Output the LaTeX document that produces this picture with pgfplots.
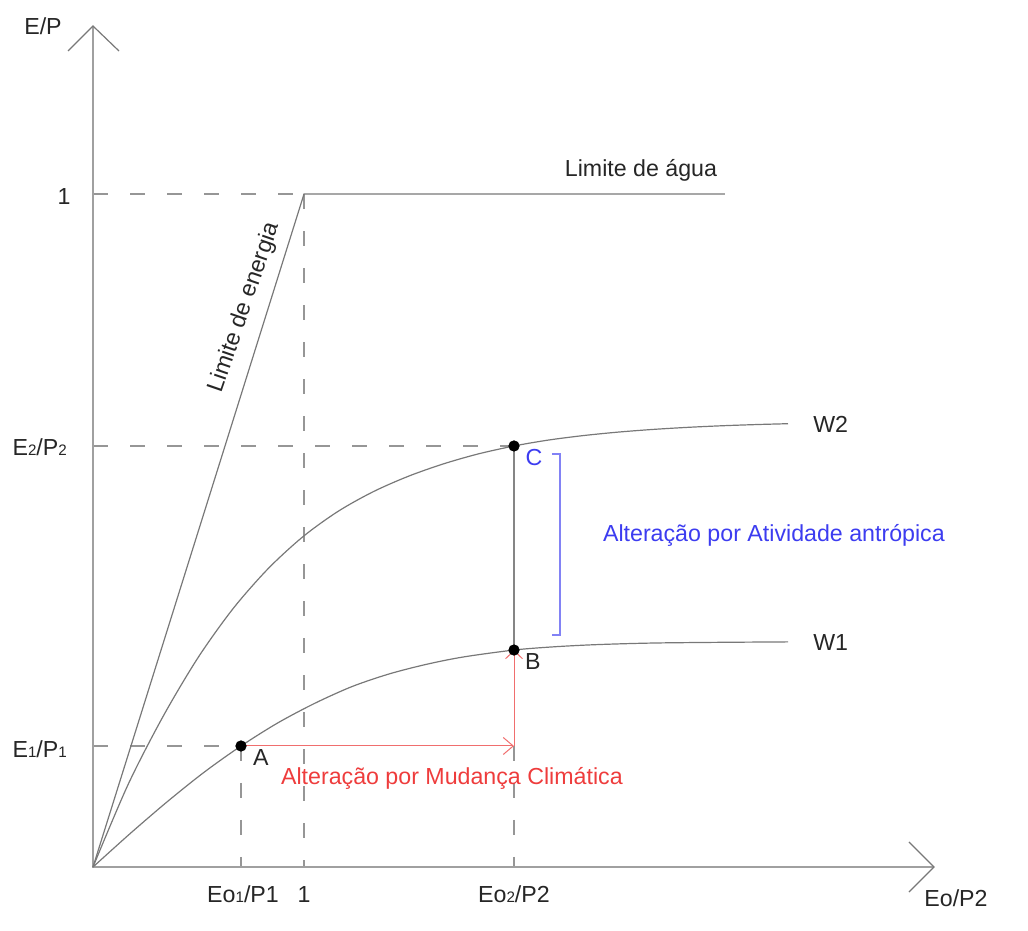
\documentclass[border=0pt]{standalone}
\usepackage{fontspec}
\setmainfont{Liberation Sans}
\usepackage{pgfplots}
\pgfplotsset{compat=1.18}
\usetikzlibrary{arrows.meta}
\definecolor{axg}{RGB}{160,160,160}
\definecolor{crv}{RGB}{120,120,120}
\definecolor{dsh}{RGB}{150,150,150}
\definecolor{redt}{RGB}{238,60,60}
\definecolor{redl}{RGB}{240,110,110}
\definecolor{bluet}{RGB}{60,60,240}
\definecolor{bluel}{RGB}{130,130,245}
\newcommand{\sub}[1]{{\fontsize{7.6}{8}\selectfont #1}}
\begin{document}
\fontsize{11.6}{14}\selectfont
\begin{tikzpicture}[font=\fontsize{11.6}{14}\selectfont]
\begin{axis}[
  width=514pt, height=465.5pt, scale only axis,
  xmin=-0.4408, xmax=4.4313, ymin=-0.0951, ymax=1.2883,
  hide axis, clip=false,
]
\path[draw=none] (rel axis cs:0,0) rectangle (rel axis cs:1,1);
% dashed guide lines
\pgfplotsset{dl/.style={no marks, color=dsh, line width=0.65pt, dash pattern=on 7.5pt off 11pt}}
\addplot[dl] coordinates {(0,1) (1,1)};
\addplot[dl] coordinates {(1,1) (1,0)};
\addplot[dl] coordinates {(0,0.6256) (1.9953,0.6256)};
\addplot[dl] coordinates {(0,0.1798) (0.7014,0.1798)};
\addplot[dl] coordinates {(0.7014,0.1798) (0.7014,0)};
\addplot[dl] coordinates {(1.9953,0.1798) (1.9953,0)};
% axes
\addplot[no marks, color=axg, line width=0.75pt] coordinates {(0,1.2496) (0,0) (3.986,0)};
\addplot[no marks, color=crv, line width=0.6pt] coordinates {(-0.1185,1.2125) (0,1.2496) (0.1232,1.2125)};
\addplot[no marks, color=crv, line width=0.6pt] coordinates {(3.867,0.0371) (3.986,0) (3.867,-0.0371)};
% limits
\addplot[no marks, color=crv, line width=0.6pt] coordinates {(0,0) (1,1) (2.995,1)};
% W2
\addplot[no marks, color=crv, line width=0.6pt, smooth, tension=0.5] coordinates {
(0,0) (0.1659,0.1223) (0.3318,0.2236) (0.4976,0.3110) (0.6635,0.3838) (0.8294,0.4431)
(0.9953,0.4909) (1.1611,0.5284) (1.3270,0.5575) (1.4929,0.5804) (1.6588,0.5988)
(1.8246,0.6137) (1.9953,0.6256) (2.1564,0.6343) (2.3223,0.6410) (2.4882,0.6462)
(2.6540,0.6502) (2.8199,0.6533) (2.9858,0.6557) (3.1517,0.6575) (3.2938,0.6587)};
% W1
\addplot[no marks, color=crv, line width=0.6pt, smooth, tension=0.5] coordinates {
(0,0) (0.1754,0.0495) (0.3507,0.0967) (0.5261,0.1407) (0.7014,0.1798) (0.8768,0.2143)
(1.0521,0.2434) (1.2275,0.2681) (1.4028,0.2868) (1.5782,0.3010) (1.7536,0.3120)
(1.9953,0.3224) (2.1706,0.3269) (2.3460,0.3299) (2.5213,0.3318) (2.6967,0.3330)
(2.9953,0.3339) (3.2938,0.3345)};
% B-C
\addplot[no marks, color=crv!90, line width=1pt] coordinates {(1.9953,0.3224) (1.9953,0.6256)};
% red arrows
\addplot[no marks, color=redl, line width=0.5pt, -{Straight Barb[length=5pt,width=8.5pt]}] coordinates {(0.7014,0.1798) (1.9953,0.1798)};
\addplot[no marks, color=redl, line width=0.5pt, -{Straight Barb[length=4pt,width=8.5pt]}] coordinates {(1.9953,0.1798) (1.9953,0.3224)};
% blue bracket
\addplot[no marks, color=bluel, line width=0.55pt] coordinates {(2.175,0.6137) (2.213,0.6137) (2.213,0.3447) (2.175,0.3447)};
% points
\addplot[only marks, mark=*, mark size=2.6pt, color=black] coordinates {(0.7014,0.1798) (1.9953,0.3224) (1.9953,0.6256)};
% labels
\tikzset{every node/.append style={inner sep=0pt, font=\fontsize{11.6}{14}\selectfont}}
\node[anchor=center, text=black!85] at (axis cs:-0.237,1.2496) {E/P};
\node[anchor=center, text=black!85] at (axis cs:-0.137,0.997) {1};
\node[anchor=base east, text=black!85] at (axis cs:-0.122,0.612) {E\sub{2}/P\sub{2}};
\node[anchor=base east, text=black!85] at (axis cs:-0.122,0.162) {E\sub{1}/P\sub{1}};
\node[anchor=base, text=black!85] at (axis cs:0.711,-0.053) {Eo\sub{1}/P1};
\node[anchor=base, text=black!85] at (axis cs:1,-0.053) {1};
\node[anchor=base, text=black!85] at (axis cs:1.995,-0.053) {Eo\sub{2}/P2};
\node[anchor=base, text=black!85] at (axis cs:4.09,-0.058) {Eo/P2};
\node[anchor=base, text=black!85] at (axis cs:2.597,1.0267) {Limite de água};
\node[anchor=center, text=black!85, rotate=71] at (axis cs:0.718,0.831) {Limite de energia};
\node[anchor=base west, text=black!85] at (axis cs:3.412,0.646) {W2};
\node[anchor=base west, text=black!85] at (axis cs:3.412,0.322) {W1};
\node[anchor=center, text=bluet] at (axis cs:2.090,0.609) {C};
\node[anchor=center, text=black!85] at (axis cs:2.085,0.306) {B};
\node[anchor=center, text=black!85] at (axis cs:0.796,0.162) {A};
\node[anchor=center, text=redt] at (axis cs:1.701,0.132) {Alteração por Mudança Climática};
\node[anchor=center, text=bluet] at (axis cs:3.227,0.492) {Alteração por Atividade antrópica};
\end{axis}
\end{tikzpicture}
\end{document}
